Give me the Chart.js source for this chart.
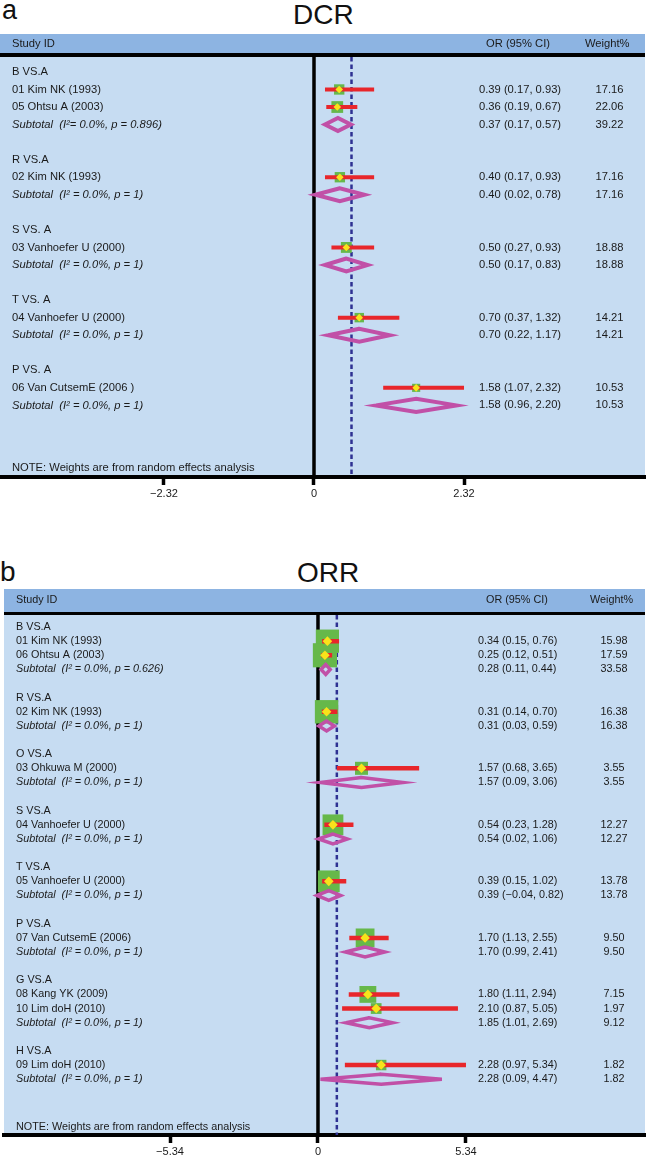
<!DOCTYPE html>
<html>
<head>
<meta charset="utf-8">
<script src="https://cdn.jsdelivr.net/npm/chart.js@4/dist/chart.umd.min.js"></script>
<style>
  body { margin: 0; background: #fff; width: 650px; height: 1163px; position: relative; overflow: hidden; font-family: "Liberation Sans", Arial, sans-serif; }
  .lbl { position: absolute; color: #111; line-height: 1; }
  .wrap { position: absolute; left: 0; width: 650px; }
</style>
</head>
<body>
<div class="lbl" style="left:2px;top:-3px;font-size:27px">a</div>
<div class="lbl" style="left:293px;top:1px;font-size:28px">DCR</div>
<div class="wrap" style="top:0;height:505px"><canvas id="dcr"></canvas></div>
<div class="lbl" style="left:0;top:558px;font-size:28px">b</div>
<div class="lbl" style="left:297px;top:559px;font-size:28px">ORR</div>
<div class="wrap" style="top:560px;height:603px"><canvas id="orr"></canvas></div>

<script>
// ---- DCR (panel a) ----
const dcrLabels = [
  'B VS.A', '01 Kim NK (1993)', '05 Ohtsu A (2003)', 'Subtotal  (I²= 0.0%, p = 0.896)', '',
  'R VS.A', '02 Kim NK (1993)', 'Subtotal  (I² = 0.0%, p = 1)', '',
  'S VS. A', '03 Vanhoefer U (2000)', 'Subtotal  (I² = 0.0%, p = 1)', '',
  'T VS. A', '04 Vanhoefer U (2000)', 'Subtotal  (I² = 0.0%, p = 1)', '',
  'P VS. A', '06 Van CutsemE (2006 )', 'Subtotal  (I² = 0.0%, p = 1)'
];
const dcrStudyRows = [1, 2, 6, 10, 14, 18];
const dcrStudyOR = [0.39, 0.36, 0.40, 0.50, 0.70, 1.58];
const dcrStudyLo = [0.17, 0.19, 0.17, 0.27, 0.37, 1.07];
const dcrStudyHi = [0.93, 0.67, 0.93, 0.93, 1.32, 2.32];
const dcrStudyW = [17.16, 22.06, 17.16, 18.88, 14.21, 10.53];
const dcrSubRows = [3, 7, 11, 15, 19];
const dcrSubOR = [0.37, 0.40, 0.50, 0.70, 1.58];
const dcrSubLo = [0.17, 0.02, 0.17, 0.22, 0.96];
const dcrSubHi = [0.57, 0.78, 0.83, 1.17, 2.20];
const dcrSubW = [39.22, 17.16, 18.88, 14.21, 10.53];
const dcrTicks = [-2.32, 0, 2.32];
const dcrTickLabels = ['\u22122.32', '0', '2.32'];
const dcrPooled = 0.58;

// ---- ORR (panel b) ----
const orrLabels = [
  'B VS.A', '01 Kim NK (1993)', '06 Ohtsu A (2003)', 'Subtotal  (I² = 0.0%, p = 0.626)', '',
  'R VS.A', '02 Kim NK (1993)', 'Subtotal  (I² = 0.0%, p = 1)', '',
  'O VS.A', '03 Ohkuwa M (2000)', 'Subtotal  (I² = 0.0%, p = 1)', '',
  'S VS.A', '04 Vanhoefer U (2000)', 'Subtotal  (I² = 0.0%, p = 1)', '',
  'T VS.A', '05 Vanhoefer U (2000)', 'Subtotal  (I² = 0.0%, p = 1)', '',
  'P VS.A', '07 Van CutsemE (2006)', 'Subtotal  (I² = 0.0%, p = 1)', '',
  'G VS.A', '08 Kang YK (2009)', '10 Lim doH (2010)', 'Subtotal  (I² = 0.0%, p = 1)', '',
  'H VS.A', '09 Lim doH (2010)', 'Subtotal  (I² = 0.0%, p = 1)'
];
const orrStudyRows = [1, 2, 6, 10, 14, 18, 22, 26, 27, 31];
const orrStudyOR = [0.34, 0.25, 0.31, 1.57, 0.54, 0.39, 1.70, 1.80, 2.10, 2.28];
const orrStudyLo = [0.15, 0.12, 0.14, 0.68, 0.23, 0.15, 1.13, 1.11, 0.87, 0.97];
const orrStudyHi = [0.76, 0.51, 0.70, 3.65, 1.28, 1.02, 2.55, 2.94, 5.05, 5.34];
const orrStudyW = [15.98, 17.59, 16.38, 3.55, 12.27, 13.78, 9.50, 7.15, 1.97, 1.82];
const orrSubRows = [3, 7, 11, 15, 19, 23, 28, 32];
const orrSubOR = [0.28, 0.31, 1.57, 0.54, 0.39, 1.70, 1.85, 2.28];
const orrSubLo = [0.11, 0.03, 0.09, 0.02, -0.04, 0.99, 1.01, 0.09];
const orrSubHi = [0.44, 0.59, 3.06, 1.06, 0.82, 2.41, 2.69, 4.47];
const orrSubW = [33.58, 16.38, 3.55, 12.27, 13.78, 9.50, 9.12, 1.82];
const orrTicks = [-5.34, 0, 5.34];
const orrTickLabels = ['\u22125.34', '0', '5.34'];
const orrPooled = 0.68;

const FONT = '"Liberation Sans", Arial, Helvetica, sans-serif';
const HEAD_BLUE = '#8db4e2';
const BODY_BLUE = '#c6dcf2';
const GREEN = '#66b84a';
const RED = '#e8262b';
const YELLOW = '#f7e31b';
const MAGENTA = '#c150a7';
const NAVY = '#2e3192';

function fmt(v) {
  return v < 0 ? '\u2212' + Math.abs(v).toFixed(2) : v.toFixed(2);
}

// header bar, body fill and the text columns
function tablePlugin(d, look) {
  return {
    id: 'forestTable',
    beforeDraw(chart) {
      const { ctx, chartArea: a } = chart;
      ctx.save();
      ctx.fillStyle = BODY_BLUE;
      ctx.fillRect(a.left, a.top, a.right - a.left, a.bottom - a.top);
      ctx.fillStyle = HEAD_BLUE;
      ctx.fillRect(a.left, a.top - look.ruleH - look.headH, a.right - a.left, look.headH);
      ctx.fillStyle = '#000';
      ctx.fillRect(a.left, a.top - look.ruleH, a.right - a.left, look.ruleH);
      ctx.restore();
    },
    afterDraw(chart) {
      const { ctx, chartArea: a } = chart;
      const ys = chart.scales.y;
      ctx.save();
      ctx.fillStyle = '#1a1a1a';
      ctx.textBaseline = 'middle';
      ctx.font = `${look.fs}px ${FONT}`;
      const hy = a.top - look.ruleH - look.headH / 2;
      ctx.fillText('Study ID', look.labelX, hy);
      ctx.fillText('OR (95% CI)', look.orHeadX, hy);
      ctx.fillText('Weight%', look.wHeadX, hy);

      d.labels.forEach((t, i) => {
        if (!t) return;
        ctx.font = (t.startsWith('Subtotal') ? 'italic ' : '') + `${look.fs}px ${FONT}`;
        ctx.fillText(t, look.labelX, ys.getPixelForValue(i));
      });

      ctx.font = `${look.fs}px ${FONT}`;
      const rows = [];
      d.studyRows.forEach((r, i) => rows.push([r, d.studyOR[i], d.studyLo[i], d.studyHi[i], d.studyW[i]]));
      d.subRows.forEach((r, i) => rows.push([r, d.subOR[i], d.subLo[i], d.subHi[i], d.subW[i]]));
      rows.forEach(([r, or, lo, hi, w]) => {
        const y = ys.getPixelForValue(r);
        ctx.textAlign = 'left';
        ctx.fillText(`${fmt(or)} (${fmt(lo)}, ${fmt(hi)})`, look.orX, y);
        ctx.textAlign = 'center';
        ctx.fillText(w.toFixed(2), look.wX, y);
      });

      ctx.textAlign = 'left';
      ctx.fillText('NOTE: Weights are from random effects analysis', look.labelX, ys.getPixelForValue(look.noteRow));
      ctx.restore();
    }
  };
}

function drawForest(id, d, look) {
  const ciPts = [];
  d.studyRows.forEach((r, i) => {
    ciPts.push({ x: d.studyLo[i], y: r }, { x: d.studyHi[i], y: r }, { x: null, y: null });
  });
  const diaPts = [];
  const h = look.diaHalf;
  d.subRows.forEach((r, i) => {
    const lo = d.subLo[i], hi = d.subHi[i], or = d.subOR[i];
    diaPts.push({ x: lo, y: r }, { x: or, y: r - h }, { x: hi, y: r }, { x: or, y: r + h },
      { x: lo, y: r }, { x: or, y: r - h }, { x: null, y: null });
  });
  const studyPts = d.studyRows.map((r, i) => ({ x: d.studyOR[i], y: r }));

  new Chart(document.getElementById(id), {
    type: 'scatter',
    data: {
      datasets: [
        {
          type: 'line', order: 6,
          data: [{ x: 0, y: look.yMin }, { x: 0, y: look.yMax }],
          borderColor: '#000', borderWidth: 3.5, pointRadius: 0
        },
        {
          type: 'line', order: 5,
          data: [{ x: d.pooled, y: look.yMin }, { x: d.pooled, y: look.yMax }],
          borderColor: NAVY, borderWidth: 2.5, borderDash: [4.5, 3], pointRadius: 0
        },
        {
          order: 4,
          data: studyPts,
          pointStyle: 'rect',
          pointRadius: c => look.sq(d.studyW[c.dataIndex]) / Math.SQRT2,
          backgroundColor: GREEN, borderWidth: 0
        },
        {
          type: 'line', order: 3,
          data: ciPts, spanGaps: false,
          borderColor: RED, borderWidth: look.ciW, borderCapStyle: 'butt', pointRadius: 0
        },
        {
          type: 'line', order: 2,
          data: diaPts, spanGaps: false,
          borderColor: MAGENTA, borderWidth: look.diaW, borderJoinStyle: 'miter', pointRadius: 0
        },
        {
          order: 1,
          data: studyPts,
          pointStyle: 'rectRot', pointRadius: look.dotR,
          backgroundColor: YELLOW, borderWidth: 0
        }
      ]
    },
    options: {
      responsive: true,
      maintainAspectRatio: false,
      animation: false,
      layout: { autoPadding: false, padding: { top: look.padTop, left: look.left, right: 5, bottom: 0 } },
      plugins: { legend: { display: false }, tooltip: { enabled: false } },
      scales: {
        x: {
          type: 'linear', min: look.xMin, max: look.xMax, bounds: 'data',
          afterBuildTicks: s => { s.ticks = d.ticks.map(v => ({ value: v })); },
          afterFit: s => { s.height = 28; s.paddingLeft = 0; s.paddingRight = 0; },
          ticks: {
            callback: (v, i) => d.tickLabels[i],
            font: { family: FONT, size: 11 }, color: '#1a1a1a',
            padding: 2, maxRotation: 0, autoSkip: false
          },
          grid: { drawOnChartArea: false, drawTicks: true, tickLength: 8, tickWidth: 3.5, tickColor: '#000', color: '#000' },
          border: { display: true, width: 4, color: '#000' }
        },
        y: { type: 'linear', display: false, reverse: true, min: look.yMin, max: look.yMax }
      }
    },
    plugins: [tablePlugin(d, look)]
  });
}

drawForest('dcr', {
  labels: dcrLabels,
  studyRows: dcrStudyRows, studyOR: dcrStudyOR, studyLo: dcrStudyLo, studyHi: dcrStudyHi, studyW: dcrStudyW,
  subRows: dcrSubRows, subOR: dcrSubOR, subLo: dcrSubLo, subHi: dcrSubHi, subW: dcrSubW,
  ticks: dcrTicks, tickLabels: dcrTickLabels, pooled: dcrPooled
}, {
  padTop: 57, left: 0, headH: 19, ruleH: 4,
  xMin: -4.856, xMax: 5.119, yMin: -0.85, yMax: 23.08,
  fs: 11.2, labelX: 12, orX: 479, wX: 609.5, orHeadX: 486, wHeadX: 585, noteRow: 22.57,
  sq: w => 2.5 * Math.sqrt(w), dotR: 3.8, ciW: 4, diaW: 4, diaHalf: 0.37
});

drawForest('orr', {
  labels: orrLabels,
  studyRows: orrStudyRows, studyOR: orrStudyOR, studyLo: orrStudyLo, studyHi: orrStudyHi, studyW: orrStudyW,
  subRows: orrSubRows, subOR: orrSubOR, subLo: orrSubLo, subHi: orrSubHi, subW: orrSubW,
  ticks: orrTicks, tickLabels: orrTickLabels, pooled: orrPooled
}, {
  padTop: 55, left: 4, headH: 23, ruleH: 3,
  xMin: -11.33, xMax: 11.80, yMin: -0.85, yMax: 35.95,
  fs: 10.8, labelX: 16, orX: 478, wX: 614, orHeadX: 486, wHeadX: 590, noteRow: 35.38,
  sq: w => 4 + 4.8 * Math.sqrt(w), dotR: 4.8, ciW: 4.5, diaW: 3.5, diaHalf: 0.35
});
</script>
</body>
</html>
